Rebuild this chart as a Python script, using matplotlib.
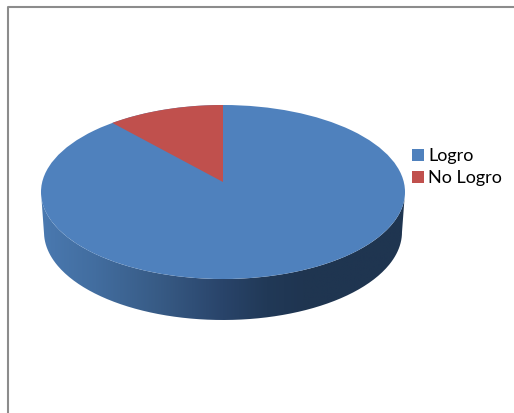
import numpy as np
import matplotlib
matplotlib.use('Agg')
import matplotlib.pyplot as plt
from matplotlib.colors import LinearSegmentedColormap
from matplotlib.patches import Ellipse, PathPatch, Polygon, Rectangle
from matplotlib.path import Path

labels = ['Logro', 'No Logro']
values = [89.6, 10.4]
colors = ['#4F81BD', '#C0504D']

W, H = 514, 413

fig = plt.figure(figsize=(W / 100, H / 100), dpi=100)
ax = fig.add_axes([0, 0, 1, 1])
ax.set_xlim(0, W)
ax.set_ylim(H, 0)
ax.axis('off')

# outer frame of the chart, only top and left are visible in the crop
ax.plot([7.5, 7.5, W], [H, 6.5, 6.5], color='#8c8c8c', lw=1.5, solid_capstyle='butt')

# pie geometry (pixels)
cx, cy, rx, ry = 223, 192, 182, 87
apex_y = 182
bx, by, brx, bry = 223, 232, 179, 88

# side of the disc: gradient clipped to the band under the top ellipse
t = np.linspace(0, np.pi, 200)
top_edge = np.column_stack([cx + rx * np.cos(t), cy + ry * np.sin(t)])
bot_edge = np.column_stack([bx + brx * np.cos(t[::-1]), by + bry * np.sin(t[::-1])])
side_pts = np.vstack([top_edge, bot_edge, top_edge[:1]])
side = PathPatch(Path(side_pts), fc='none', ec='none', transform=ax.transData)
ax.add_patch(side)

grad = LinearSegmentedColormap.from_list('side', [
    (0.00, '#4a79b0'), (0.15, '#426d9f'), (0.33, '#375a84'),
    (0.50, '#29446a'), (0.62, '#213957'), (0.72, '#1f3551'), (1.00, '#1f3550')])
img = ax.imshow(np.linspace(0, 1, 256)[None, :], cmap=grad, aspect='auto',
                extent=[41, 405, 325, 190], zorder=1)
img.set_clip_path(side)
ax.set_xlim(0, W)
ax.set_ylim(H, 0)

# top of the disc, slices run clockwise from 12 o'clock
ax.add_patch(Ellipse((cx, cy), 2 * rx, 2 * ry, fc=colors[0], ec='none', zorder=2))
frac = values[1] / sum(values)
a = np.linspace(-2 * np.pi * frac, 0, 60)
arc = np.column_stack([cx + rx * np.sin(a), cy - ry * np.cos(a)])
ax.add_patch(Polygon(np.vstack([[cx, apex_y], arc]), closed=True,
                     fc=colors[1], ec='none', zorder=3))

# legend
for lab, col, y in zip(labels, colors, [155, 177]):
    ax.add_patch(Rectangle((412, y - 6), 12, 12, fc=col, ec='none', zorder=4))
    ax.text(428.5, y + 0.5, lab, fontsize=13, color='black', va='center', ha='left',
            family=['Lato', 'DejaVu Sans'], zorder=4)

fig.savefig('out.png', dpi=100)
